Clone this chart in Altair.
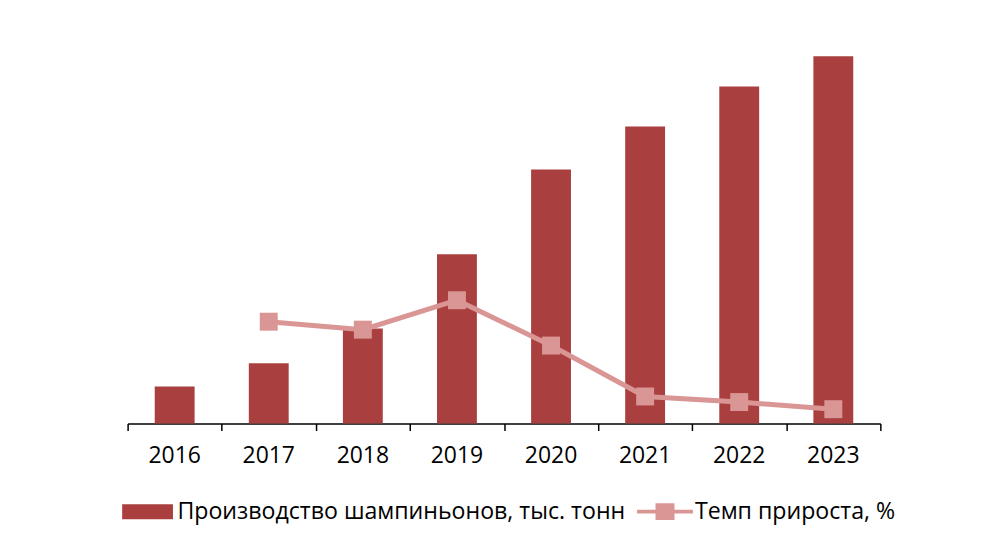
import altair as alt
import pandas as pd

years = ["2016", "2017", "2018", "2019", "2020", "2021", "2022", "2023"]
production = [10.1, 16.4, 25.9, 46.1, 69.2, 80.9, 91.8, 100.0]
growth = [None, 64.0, 59.0, 77.5, 49.0, 17.0, 13.5, 9.0]
tick_positions = [0, 1, 2, 3, 4, 5, 6, 7, 8]

s_bar = "Производство шампиньонов, тыс. тонн"
s_line = "Темп прироста, %"

BAR = "#A9403F"
PINK = "#D99694"
FONT = "Open Sans"

df = pd.DataFrame({"year": years, "prod": production, "growth": growth})
leg_df = pd.DataFrame({"series": [s_bar, s_line]})
tick_df = pd.DataFrame({"pos": tick_positions})

x = alt.X("year:N", title=None, sort=years,
          scale=alt.Scale(paddingInner=0.576, paddingOuter=0.288),
          axis=alt.Axis(orient="bottom", labelAngle=0, ticks=False, domainColor="#000000",
                        domainWidth=1.5,
                        labelFont=FONT, labelFontSize=23, labelFontWeight="normal",
                        labelColor="#000000", labelPadding=21, grid=False))

bars = alt.Chart(df).mark_bar(color=BAR, size=40).encode(
    x=x,
    y=alt.Y("prod:Q", axis=None, scale=alt.Scale(domain=[0, 104], nice=False)),
)

line = alt.Chart(df).mark_line(color=PINK, strokeWidth=5).encode(
    x=x,
    y=alt.Y("growth:Q", axis=None, scale=alt.Scale(domain=[0, 240], nice=False)),
)
pts = alt.Chart(df).mark_square(color=PINK, size=324, opacity=1, filled=True).encode(
    x=x,
    y=alt.Y("growth:Q", axis=None, scale=alt.Scale(domain=[0, 240], nice=False)),
)

bar_path = "M-0.91,-0.27 H0.91 V0.27 H-0.91 Z"
line_path = ("M-1,-0.07 H-0.34 V-0.3 H0.34 V-0.07 H1 V0.07 H0.34 V0.3 H-0.34 V0.07 H-1 Z")

legend_layer = alt.Chart(leg_df).mark_point(filled=True, opacity=0).encode(
    x=alt.value(0), y=alt.value(0),
    color=alt.Color("series:N", sort=[s_bar, s_line],
                    scale=alt.Scale(domain=[s_bar, s_line], range=[BAR, PINK]),
                    legend=alt.Legend(title=None, orient="none", direction="horizontal",
                                      legendX=-8, legendY=443, padding=0,
                                      symbolSize=3136, symbolOpacity=1, symbolStrokeWidth=0,
                                      labelFont=FONT, labelFontSize=23.2, labelColor="#000000",
                                      labelOffset=2, columnPadding=12, labelLimit=600)),
    shape=alt.Shape("series:N", sort=[s_bar, s_line],
                    scale=alt.Scale(domain=[s_bar, s_line], range=[bar_path, line_path]),
                    legend=None),
)

main = alt.layer(bars, line, pts, legend_layer).resolve_scale(y="independent")

tick_layer = alt.Chart(tick_df).mark_point(opacity=0).encode(
    x=alt.X("pos:Q", title=None,
            scale=alt.Scale(domain=[0, 8], nice=False, zero=False),
            axis=alt.Axis(orient="bottom", values=tick_positions, labels=False,
                          domain=False, grid=False, ticks=True, tickSize=7,
                          tickColor="#000000", tickWidth=1.5)),
    y=alt.value(0),
)

chart = alt.layer(tick_layer, main).resolve_scale(
    x="independent", y="independent"
).properties(
    width=755, height=383,
    padding={"left": 120, "top": 38, "right": 105, "bottom": 8},
).configure(background="#ffffff").configure_view(stroke=None)

chart.save("out.html", embed_options={"renderer": "svg", "actions": False})
